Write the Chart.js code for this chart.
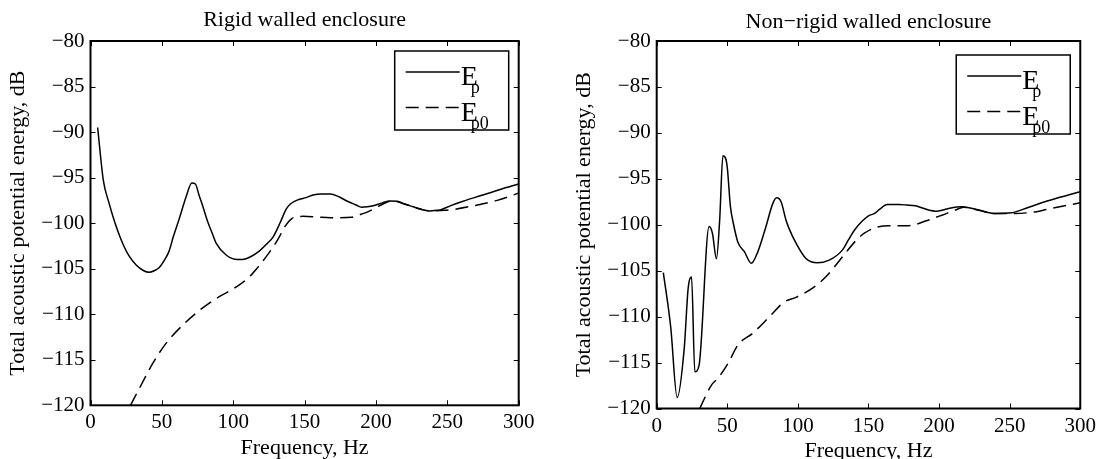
<!DOCTYPE html>
<html>
<head>
<meta charset="utf-8">
<script src="https://cdn.jsdelivr.net/npm/chart.js@4.4.0/dist/chart.umd.min.js"></script>
<style>
  html, body { margin: 0; padding: 0; background: #fff; overflow: hidden; }
  canvas { position: absolute; top: 0; }
  #rigid { left: 0; }
  #flexible { left: 566px; }
</style>
</head>
<body>
<canvas id="rigid" width="550" height="459"></canvas>
<canvas id="flexible" width="535" height="459"></canvas>
<script>
/////////////////////
//      Data       //
/////////////////////
const X_TICKS = [0, 50, 100, 150, 200, 250, 300];
const Y_TICKS = [-120, -115, -110, -105, -100, -95, -90, -85, -80];

// Rigid walled enclosure
const RIGID_EP_FREQ = [5, 9, 13, 16, 19, 22.5, 27, 32, 37, 41, 45, 48, 52, 55, 58, 62, 67, 71, 73.5, 76, 79, 82, 85,
  88, 95, 103, 109, 118, 124, 128, 133, 137, 140, 146, 151, 156, 162, 168, 174, 180, 186, 190, 194, 198, 204,
  210, 215, 220, 226, 231, 237, 241, 245, 252, 261, 273, 287, 300];
const RIGID_EP = [-89.5, -95.3, -97.8, -99.4, -100.8, -102.2, -103.6, -104.6, -105.2, -105.4, -105.2, -104.9, -104.0,
  -103.1, -101.5, -99.6, -97.1, -95.6, -95.7, -96.9, -98.3, -99.8, -101.0,
  -102.2, -103.5, -104.0, -103.9, -103.1, -102.2, -101.5, -99.9, -98.5, -97.9, -97.4, -97.2, -96.9, -96.8, -96.8,
  -97.1, -97.6, -98.0, -98.25, -98.2, -98.1, -97.8,
  -97.56, -97.6, -97.9, -98.2, -98.45, -98.66, -98.6, -98.55, -98.1, -97.6, -97.0, -96.3, -95.7];
const RIGID_EP0_FREQ = [28, 31, 35.4, 43.6, 52.9, 64.6, 77.4, 90.2, 99.6, 105, 111.3, 117, 123, 128, 132.3, 136, 141,
  145, 149, 160, 168, 183, 190, 195, 200.5, 205, 210, 215, 220, 226, 232, 238, 246, 254, 268, 285, 300];
const RIGID_EP0 = [-120, -119.1, -117.8, -115.4, -113.2, -111.2, -109.45, -108.07, -107.26, -106.7, -105.9, -104.9,
  -103.7, -102.6, -101.5, -100.4, -99.5, -99.3, -99.25, -99.35, -99.4, -99.35, -99.0, -98.7, -98.25, -97.9, -97.6,
  -97.65, -97.9, -98.2, -98.5, -98.66, -98.6, -98.5, -98.1, -97.5, -96.7];

// Non-rigid walled enclosure
const FLEX_EP_FREQ = [4.7, 9.9, 14.5, 19.5, 22.3, 24.7, 27, 30, 37.1, 39.5, 42.3, 44.6, 46.9, 49.8, 52.2, 54.5, 57.5,
  62.2, 67, 71.6, 77.2, 82.2, 85, 88.1, 91.6, 94, 98.7, 105.7, 113.9, 122.2, 131.5, 136, 140, 145.6, 150.3, 154,
  158, 163.3, 171.5, 177, 183.3, 191.5, 198.5, 206.7, 216.1, 226.7, 239.7, 251.4, 263.1, 274.9, 284.3, 300];
const FLEX_EP = [-105.2, -111.1, -118.8, -113.45, -106.9, -105.7, -116.0, -115.3, -100.2, -100.95, -103.7, -99.5,
  -92.5, -93.5, -98.0, -100.0, -101.9,
  -102.95, -104.2, -102.95, -100.3, -97.7, -97.07, -97.5, -99.5, -100.5, -102.0, -103.67, -104.14, -103.85, -102.76,
  -101.6, -100.6, -99.6, -99.0, -98.8,
  -98.3, -97.8, -97.8, -97.85, -97.94, -98.34, -98.52, -98.23, -98.05, -98.34, -98.77, -98.7, -98.12, -97.5, -97.07,
  -96.4];
const FLEX_EP0_FREQ = [30.5, 31.7, 38.8, 43.4, 50.5, 57.5, 68.1, 78.7, 90.4, 98.7, 110.4, 119.8, 131.5, 141, 146.8,
  155.1, 164.4, 178.5, 190.3, 202, 211.5, 217.3, 227.5, 239.7, 253.8, 267.9, 276, 300];
const FLEX_EP0 = [-120, -119.6, -117.45, -116.7, -115.1, -113.1, -111.8, -110.2, -108.4, -107.9, -106.9, -105.67,
  -103.5, -101.75, -100.95, -100.3, -100.1, -100.1, -99.6, -98.96, -98.4, -98.1, -98.4, -98.77, -98.77, -98.6,
  -98.34, -97.6];


/////////////////////
//    Constants    //
/////////////////////
const FONT = '"Liberation Serif", "Times New Roman", serif';
const DASH = [13, 7];
Chart.defaults.font.family = FONT;
Chart.defaults.color = '#000';


////////////////////////////
//    Helper Functions    //
////////////////////////////
function toPoints(xs, ys) {
  return xs.map((x, i) => ({ x, y: ys[i] }));
}

function minus(val) {
  return String(val).replace('-', '\u2212');
}

// Box round the axes with MATLAB style inward ticks
const framePlugin = {
  id: 'frame',
  afterDatasetsDraw(chart) {
    const { ctx, chartArea: a, scales } = chart;
    const len = 5;
    ctx.save();
    ctx.strokeStyle = '#000';
    ctx.lineWidth = 1;
    ctx.beginPath();
    for (const t of scales.x.ticks) {
      const px = Math.round(scales.x.getPixelForValue(t.value)) + 0.5;
      ctx.moveTo(px, a.bottom);
      ctx.lineTo(px, a.bottom - len);
      ctx.moveTo(px, a.top);
      ctx.lineTo(px, a.top + len);
    }
    for (const t of scales.y.ticks) {
      const py = Math.round(scales.y.getPixelForValue(t.value)) + 0.5;
      ctx.moveTo(a.left, py);
      ctx.lineTo(a.left + len, py);
      ctx.moveTo(a.right, py);
      ctx.lineTo(a.right - len, py);
    }
    ctx.stroke();
    ctx.lineWidth = 2;
    ctx.strokeRect(a.left, a.top, a.right - a.left, a.bottom - a.top);
    ctx.restore();
  }
};

// Legend with subscripts (E_p, E_p0), drawn in the upper right corner
const legendPlugin = {
  id: 'legendBox',
  afterDraw(chart, args, opts) {
    const { ctx, chartArea: a } = chart;
    const w = 114;
    const h = 79;
    const x0 = a.right - opts.right - w;
    const y0 = a.top + opts.top;
    ctx.save();
    ctx.fillStyle = '#fff';
    ctx.fillRect(x0, y0, w, h);
    ctx.strokeStyle = '#000';
    ctx.lineWidth = 1.5;
    ctx.strokeRect(x0, y0, w, h);
    chart.data.datasets.forEach((ds, i) => {
      const ly = y0 + 21 + i * 35.5;
      ctx.setLineDash(ds.borderDash || []);
      ctx.lineWidth = ds.borderWidth;
      ctx.beginPath();
      ctx.moveTo(x0 + 11, ly);
      ctx.lineTo(x0 + 65, ly);
      ctx.stroke();
      ctx.setLineDash([]);
      ctx.fillStyle = '#000';
      ctx.textBaseline = 'alphabetic';
      ctx.font = `28px ${FONT}`;
      ctx.fillText('E', x0 + 66, ly + 13);
      ctx.font = `18px ${FONT}`;
      ctx.fillText(ds.label.slice(1), x0 + 76, ly + 21);
    });
    ctx.restore();
  }
};


///////////////////////
//    Main Script    //
///////////////////////
function makeChart(id, cfg) {
  const data = {
    datasets: [{
      label: 'Ep',
      data: toPoints(cfg.epFreq, cfg.ep),
      borderColor: '#000',
      borderWidth: 1.5,
      pointRadius: 0,
      cubicInterpolationMode: 'monotone'
    }, {
      label: 'Ep0',
      data: toPoints(cfg.ep0Freq, cfg.ep0),
      borderColor: '#000',
      borderWidth: 1.5,
      borderDash: DASH,
      pointRadius: 0,
      cubicInterpolationMode: 'monotone'
    }]
  };

  return new Chart(document.getElementById(id), {
    type: 'line',
    data,
    plugins: [framePlugin, legendPlugin],
    options: {
      responsive: false,
      animation: false,
      devicePixelRatio: 1,
      layout: { padding: { right: cfg.padRight, left: 0, top: 0, bottom: 0 } },
      scales: {
        x: {
          type: 'linear',
          min: 0,
          max: 300,
          afterBuildTicks: (s) => { s.ticks = X_TICKS.map((v) => ({ value: v })); },
          afterFit: (s) => { s.height = cfg.xAxisHeight; },
          grid: { display: false, drawTicks: false },
          border: { display: false },
          ticks: { font: { size: 21 }, padding: 5, maxRotation: 0 },
          title: {
            display: true,
            text: 'Frequency, Hz',
            font: { size: 22, lineHeight: cfg.xTitleLine },
            padding: { top: 0, bottom: 0 }
          }
        },
        y: {
          min: -120,
          max: -80,
          afterBuildTicks: (s) => { s.ticks = Y_TICKS.map((v) => ({ value: v })); },
          afterFit: (s) => { s.width = cfg.yAxisWidth; },
          grid: { display: false, drawTicks: false },
          border: { display: false },
          ticks: { font: { size: 21 }, padding: 6, callback: (v) => minus(v) },
          title: {
            display: true,
            text: 'Total acoustic potential energy, dB',
            font: { size: 22, lineHeight: 1 },
            padding: { top: 7, bottom: 0 }
          }
        }
      },
      plugins: {
        legend: { display: false },
        tooltip: { enabled: false },
        title: {
          display: true,
          fullSize: false,   // centre over the plot area, as MATLAB does
          text: cfg.title,
          font: { size: 22, weight: 'normal', lineHeight: 1.2 },
          padding: { top: cfg.titleTop, bottom: 14.6 - cfg.titleTop }
        },
        legendBox: { top: cfg.legendTop, right: 10 }
      }
    }
  });
}

makeChart('rigid', {
  title: 'Rigid walled enclosure',
  epFreq: RIGID_EP_FREQ, ep: RIGID_EP,
  ep0Freq: RIGID_EP0_FREQ, ep0: RIGID_EP0,
  padRight: 31.3, xAxisHeight: 53.7, yAxisWidth: 90.5,
  xTitleLine: 1, titleTop: 6.8, legendTop: 10
});

makeChart('flexible', {
  title: 'Non\u2212rigid walled enclosure',
  epFreq: FLEX_EP_FREQ, ep: FLEX_EP,
  ep0Freq: FLEX_EP0_FREQ, ep0: FLEX_EP0,
  padRight: 18.7, xAxisHeight: 50.5, yAxisWidth: 90.7,
  xTitleLine: 0.75, titleTop: 9.3, legendTop: 14
});
</script>
</body>
</html>
